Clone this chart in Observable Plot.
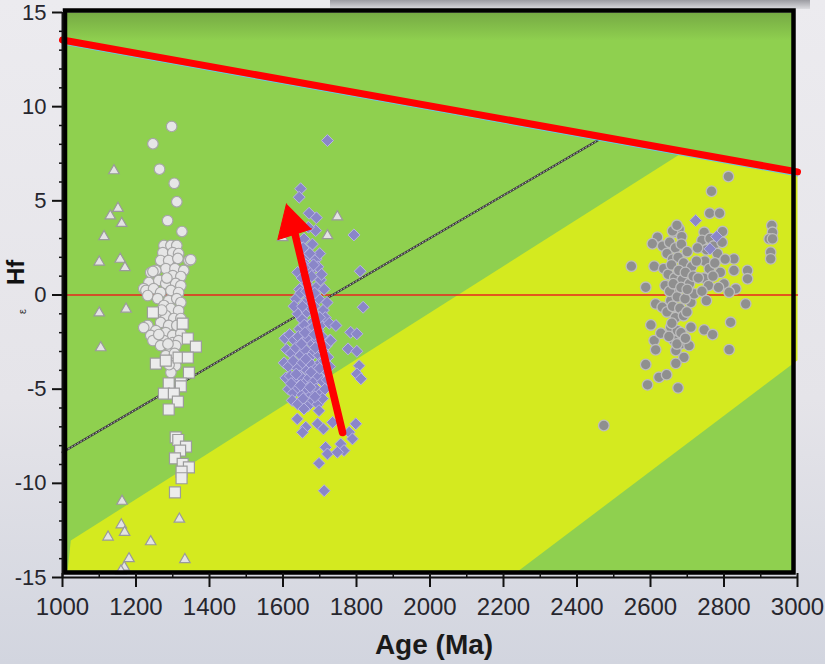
<!DOCTYPE html>
<html><head><meta charset="utf-8">
<script src="https://cdn.jsdelivr.net/npm/d3@7"></script>
<script src="https://cdn.jsdelivr.net/npm/@observablehq/plot@0.6"></script>
<style>
html,body{margin:0;padding:0;}
body{width:825px;height:664px;overflow:hidden;position:relative;background:linear-gradient(#ecebef,#e5e4e9 60%,#d2d5df);}
#shade{position:absolute;left:330px;top:0;width:480px;height:9px;background:linear-gradient(#9c9ca2,#dcdce0);}
#chart{position:absolute;left:0;top:0;}
#chart svg{display:block;overflow:visible;}
</style></head><body><div id="shade"></div><div id="chart"></div>
<script>
// ---- tick values ----
const xMajor = [1000,1200,1400,1600,1800,2000,2200,2400,2600,2800,3000];
const xMinor = [1100,1300,1500,1700,1900,2100,2300,2500,2700,2900];
const yMajor = [-15,-10,-5,0,5,10,15];
const yMinor = [-14,-13,-12,-11,-9,-8,-7,-6,-4,-3,-2,-1,1,2,3,4,6,7,8,9,11,12,13,14];

// ---- reference lines / regions (Age Ma, eHf) ----
const depletedMantle = [[1000,13.54],[3000,6.54]];
const crustLine = [[1000,-8.35],[2456,8.2]];
const zeroLine = [[1000,0],[3000,0]];
const yellowField = [[1022.6,-13.04],[2680,7.48],[3000,6.54],[3000,-3.46],[2242,-14.63],[1014,-14.63]];
const arrowShaft = [[1762,-7.3],[1632,3.3]];
const arrowHead = [[1609.5,4.84],[1585.8,2.94],[1677.5,3.51]];

// ---- samples ----
const triangles = [
[1140,6.6],[1151,4.6],[1130,4.2],[1161,3.8],[1113,3.1],[1100,1.75],[1157,1.9],[1170,1.45],
[1173,-0.75],[1100,-0.95],[1104,-2.8],[1162,-10.95],[1160,-12.2],[1169,-12.6],[1124,-12.85],
[1240,-13.1],[1318,-11.9],[1181,-14.0],[1333,-14.05],[1168,-14.45],[1159,-14.65],
[1748,4.15],[1721,3.15],[1599,3.05]
];
const whiteCircles = [
[1297,8.95],[1246,8.03],[1264,6.68],[1304,5.93],[1311,4.95],[1286,3.95],[1325,3.37],
[1276,2.63],[1295,2.63],[1311,2.63],[1273,2.25],[1300,2.25],[1316,2.2],
[1267,1.83],[1289,1.83],[1314,1.94],[1344,1.83],[1349,1.88],
[1281,1.4],[1306,1.4],[1330,1.3],
[1240,1.19],[1254,1.3],[1246,1.25],[1300,1.03],[1322,0.98],
[1235,0.66],[1262,0.77],[1281,0.61],[1308,0.61],[1322,0.5],
[1221,0.34],[1227,0.24],[1248,0.34],[1267,0.13],[1295,0.24],[1316,0.13],
[1232,-0.03],[1259,-0.19],[1289,-0.3],[1311,-0.19],[1322,-0.4],
[1276,-0.56],[1295,-0.72],[1316,-0.83],
[1257,-0.93],[1281,-1.09],[1303,-1.25],[1322,-1.25],
[1267,-1.46],[1289,-1.62],[1311,-1.62],[1232,-1.62],
[1254,-1.89],[1281,-2.0],[1300,-2.15],[1322,-2.05],
[1221,-1.73],[1240,-2.15],[1276,-2.42],[1300,-2.53],[1316,-2.42],
[1246,-2.42],[1267,-2.69],[1295,-2.95],[1308,-2.69],
[1281,-3.22],[1300,-3.38],[1308,-3.75],[1295,-4.12],
[1284,0.9],[1270,-0.8],[1262,-2.1],[1287,-2.6],[1305,-3.1],[1290,-3.7]
];
const squares = [
[1246,-0.93],[1327,-1.52],[1341,-2.31],[1363,-2.74],[1254,-3.64],[1281,-3.48],[1316,-3.32],
[1341,-3.32],[1344,-4.12],[1322,-4.7],[1289,-4.7],[1322,-4.85],[1276,-5.24],[1303,-5.24],
[1314,-5.66],[1289,-6.08],[1308,-7.56],[1315,-7.7],[1336,-8.05],[1320,-8.26],[1306,-8.67],
[1327,-8.97],[1344,-9.15],[1324,-9.38],[1324,-9.73],[1306,-10.48]
];
const diamonds = [
[1721,8.2],[1648,5.64],[1644,5.19],[1671,4.34],[1691,4.10],[1689,3.42],[1669,3.6],[1793,3.19],[1657,2.98],
[1655,2.5],[1668,2.1],[1680,2.7],[1690,1.9],[1662,1.6],[1676,1.3],[1700,2.2],
[1640,1.2],[1652,0.9],[1665,0.6],[1678,1.0],[1690,0.4],[1702,0.8],[1712,0.3],[1645,0.3],[1660,1.5],[1695,1.5],[1705,1.1],
[1635,-0.2],[1648,0.1],[1660,-0.4],[1672,-0.1],[1685,-0.6],[1697,-0.2],[1710,-0.8],[1720,-0.4],
[1640,-1.0],[1652,-1.3],[1665,-0.9],[1678,-1.5],[1690,-1.1],[1703,-1.6],[1715,-1.2],
[1645,-1.8],[1658,-1.6],[1670,-1.9],[1683,-1.7],[1696,-1.9],[1726,-1.5],[1630,-0.6],
[1605,-2.3],[1618,-2.1],[1630,-2.4],[1642,-2.2],[1655,-2.5],[1668,-2.3],[1680,-2.6],[1693,-2.4],[1706,-2.2],[1718,-2.7],[1728,-2.4],
[1610,-2.9],[1622,-3.1],[1635,-2.8],[1648,-3.2],[1660,-2.9],[1673,-3.3],[1686,-3.0],[1698,-3.2],[1710,-3.0],[1722,-3.3],
[1603,-3.6],[1615,-3.8],[1628,-3.5],[1640,-3.9],[1653,-3.6],[1665,-4.0],[1678,-3.7],[1690,-3.9],[1702,-3.6],[1715,-4.0],[1727,-3.8],
[1608,-4.4],[1620,-4.3],[1633,-4.6],[1646,-4.3],[1658,-4.7],[1671,-4.4],[1684,-4.6],[1696,-4.3],[1708,-4.6],[1720,-4.5],
[1615,-5.0],[1628,-5.2],[1640,-4.9],[1652,-5.3],[1665,-5.0],[1678,-5.3],[1690,-5.0],[1703,-5.2],[1714,-5.0],
[1625,-5.6],[1640,-5.8],[1655,-5.5],[1668,-5.9],[1682,-5.6],[1695,-5.8],[1708,-5.5],
[1698,-6.14],[1657,-6.05],[1639,-6.58],[1662,-7.02],[1653,-7.29],[1694,-6.84],[1710,-7.11],[1735,-6.76],
[1798,-6.84],[1780,-7.29],[1789,-7.64],[1757,-7.91],[1716,-8.09],[1721,-8.44],[1766,-8.26],[1748,-8.35],
[1698,-8.94],[1712,-10.39],
[1744,-1.62],[1784,-1.98],[1801,-2.06],[1730,-2.42],[1777,-2.86],[1801,-2.99],[1807,-3.75],[1801,-4.19],
[1812,-4.45],[1818,-0.65],[1810,1.26],
[1650,-2.6],[1662,-3.4],[1676,-4.1],[1688,-2.8],[1700,-3.9],[1712,-3.5],[1636,-4.2],[1622,-4.7],[1648,-4.8],[1674,-4.9],
[1660,-2.0],[1685,-2.1],[1700,-1.2],[1672,-0.6],[1653,-0.6],[1686,0.1],[1664,0.2],[1673,2.2],[1683,1.6],[1687,-5.4],
[2723,3.95],[2780,3.1],[2762,2.45]
];
const greyCircles = [
[2812,6.29],[2766,5.51],[2761,4.34],[2788,4.34],
[2930,3.69],[2932,3.33],[2923,2.98],[2932,2.98],[2927,2.27],[2927,1.92],
[2619,3.07],[2605,2.72],[2664,3.33],[2678,3.51],[2746,3.33],[2796,3.37],
[2548,1.53],[2610,1.53],[2587,0.41],
[2827,1.92],[2864,1.30],[2864,0.86],[2827,1.30],[2800,0.59],[2832,0.33],[2814,0.15],[2859,-0.47],
[2818,-1.45],[2814,-2.90],
[2601,-1.59],[2610,-2.42],[2614,-2.91],[2628,-2.03],[2614,-0.47],[2632,-0.65],
[2655,-1.71],[2673,-1.89],[2710,-1.71],[2691,-2.24],[2664,-2.42],[2682,-2.60],[2705,-2.69],[2669,-2.95],
[2746,-1.85],[2769,-2.10],[2691,-3.31],[2669,-3.63],
[2587,-3.69],[2623,-4.37],[2644,-4.23],[2592,-4.77],[2675,-4.93],
[2678,-0.92],[2710,-0.39],[2719,0.06],[2655,-0.30],[2669,0.24],
[2473,-6.93],
[2660,3.4],[2672,3.7],[2685,3.1],
[2633,2.6],[2645,2.2],[2652,2.8],[2660,1.9],[2668,2.5],[2675,2.0],[2684,2.7],[2690,1.7],[2700,2.3],[2712,1.5],
[2636,1.4],[2648,1.1],[2657,1.6],[2666,0.9],[2677,1.3],[2686,0.8],[2695,1.2],[2706,0.6],[2716,1.0],
[2640,0.5],[2652,0.2],[2662,0.6],[2673,-0.1],[2683,0.4],[2694,-0.2],[2700,0.3],
[2645,-0.9],[2660,-0.6],[2668,-1.2],[2680,-0.7],[2690,-1.1],[2699,-0.9],
[2658,-1.5],[2672,-2.6],[2683,-2.0],[2695,-2.3],[2650,-2.2],
[2740,2.9],[2752,2.4],[2762,3.0],[2772,2.6],[2782,2.2],[2795,2.8],[2748,1.8],[2760,1.4],[2775,1.7],
[2790,1.2],[2803,1.9],[2745,0.9],[2758,0.5],[2770,1.0],[2785,0.4],[2740,0.2],[2752,-0.3],[2725,1.8],[2730,0.9],[2728,2.5]
];

const pts = a => a.map(([age, ehf]) => ({age, ehf}));

const green = "#8fd04f";
const yellow = "#d4ea1f";
const font = "'Liberation Sans', Arial, sans-serif";

const defs = () => {
  const d = d3.create("svg:defs");
  const g = d.append("linearGradient").attr("id","topShade").attr("x1",0).attr("y1",0).attr("x2",0).attr("y2",1);
  g.append("stop").attr("offset","0%").attr("stop-color","#76aa44");
  g.append("stop").attr("offset","5%").attr("stop-color",green);
  g.append("stop").attr("offset","100%").attr("stop-color",green);
  return d.node();
};

const chart = Plot.plot({
  width: 825, height: 664,
  marginLeft: 62, marginRight: 28, marginTop: 12, marginBottom: 87,
  x: {domain: [1000, 3000]},
  y: {domain: [-15, 15]},
  style: {background: "transparent", fontFamily: font, color: "#26262e", overflow: "visible"},
  marks: [
    defs,
    Plot.frame({fill: "url(#topShade)", stroke: null, insetLeft: 4, insetRight: 4, insetBottom: 5}),
    Plot.line(pts(yellowField), {x: "age", y: "ehf", fill: yellow, stroke: "none"}),
    Plot.line(pts(zeroLine), {x: "age", y: "ehf", stroke: "#e8261e", strokeWidth: 1.3}),
    Plot.line(pts(crustLine), {x: "age", y: "ehf", stroke: "#3c3c3c", strokeWidth: 2.2}),
    Plot.line(pts(crustLine), {x: "age", y: "ehf", stroke: "#d8d8d8", strokeWidth: 0.8, strokeDasharray: "1 2.5"}),
    Plot.dot(pts(triangles), {x: "age", y: "ehf", symbol: "triangle", r: 3.9, fill: "#e3e3e3", stroke: "#9a9a9a", strokeWidth: 1.2}),
    Plot.dot(pts(whiteCircles), {x: "age", y: "ehf", r: 5.3, fill: "#e6e6e6", stroke: "#a6a6a6", strokeWidth: 1.2}),
    Plot.dot(pts(squares), {x: "age", y: "ehf", symbol: "square", r: 6.2, fill: "#ececec", stroke: "#9c9c9c", strokeWidth: 1.2}),
    Plot.dot(pts(greyCircles), {x: "age", y: "ehf", r: 5.3, fill: "#8f8f8f", stroke: "#bdbdbd", strokeWidth: 1.3}),
    Plot.dot(pts(diamonds), {x: "age", y: "ehf", symbol: "diamond2", r: 5.4, fill: "#8a86c8", stroke: "#b8b6e2", strokeWidth: 1}),
    Plot.line(pts(depletedMantle), {x: "age", y: "ehf", stroke: "#6cc4ea", strokeWidth: 1.2, dy: 4}),
    Plot.line(pts(depletedMantle), {x: "age", y: "ehf", stroke: "#ff0000", strokeWidth: 7}),
    Plot.line(pts(arrowShaft), {x: "age", y: "ehf", stroke: "#ff0000", strokeWidth: 7.5}),
    Plot.line(pts(arrowHead), {x: "age", y: "ehf", fill: "#ff0000", stroke: "#ff0000", strokeWidth: 1}),
    Plot.frame({stroke: "#000", strokeWidth: 4.5, insetLeft: 2.5, insetRight: 4, insetTop: -2, insetBottom: 5}),
    Plot.ruleY([-15], {stroke: "#111", strokeWidth: 2}),
    Plot.ruleX([1000], {stroke: "#111", strokeWidth: 2}),
    Plot.axisX(xMajor, {tickSize: 14, dy: -4, strokeWidth: 2, stroke: "#111", tickFormat: () => "", label: null}),
    Plot.axisX(xMinor, {tickSize: 5, dy: -4, strokeWidth: 1.5, stroke: "#111", tickFormat: () => "", label: null}),
    Plot.axisX(xMajor, {tickSize: 0, tickPadding: 20, fontSize: 24, fill: "#26262e", tickFormat: d => String(d), label: null}),
    Plot.axisY(yMajor, {tickSize: 10, tickPadding: 6, strokeWidth: 2, stroke: "#111", fontSize: 22, fill: "#26262e", tickFormat: d => String(d), label: null}),
    Plot.axisY(yMinor, {tickSize: 3, strokeWidth: 1.5, stroke: "#111", tickFormat: () => "", label: null}),
    Plot.text(["Age (Ma)"], {frameAnchor: "bottom", dx: 4, dy: 68, lineAnchor: "middle", fontSize: 28, fontWeight: "bold", fill: "#1a1a1a"}),
    Plot.text(["Hf"], {frameAnchor: "left", dx: -46, dy: -10, rotate: -90, fontSize: 24, fontWeight: "bold", fill: "#111"}),
    Plot.text(["ε"], {frameAnchor: "left", dx: -40, dy: 19, rotate: -90, fontSize: 11, fill: "#333"})
  ]
});
document.getElementById("chart").appendChild(chart);
</script></body></html>
